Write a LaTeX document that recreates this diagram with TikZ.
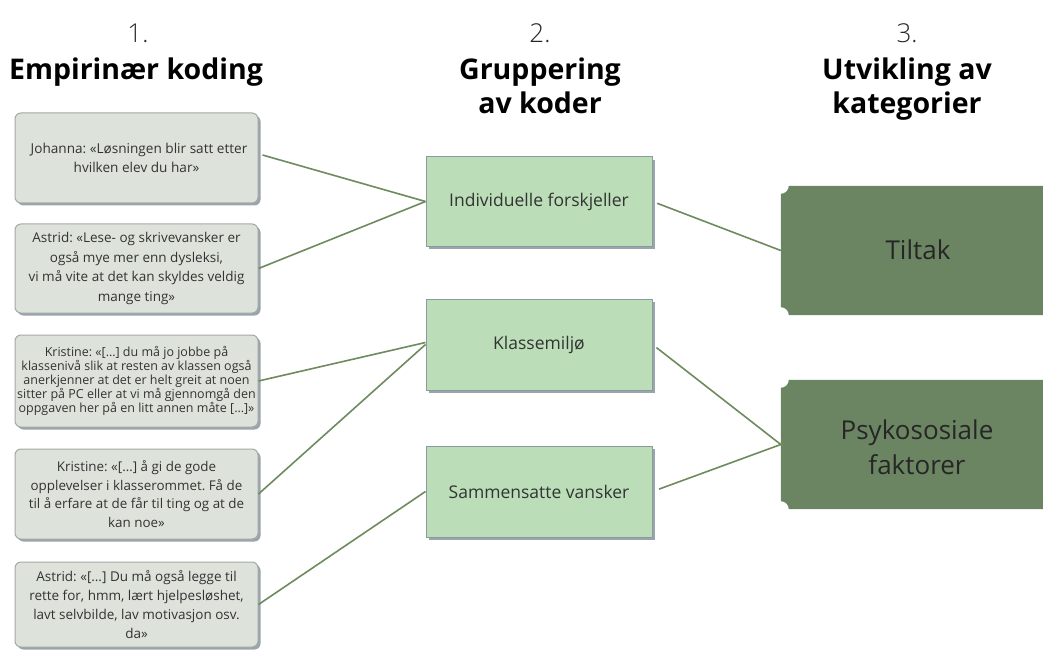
\documentclass[tikz,border=0pt]{standalone}
\usepackage{fontspec}
\setmainfont{Open Sans}
\newfontfamily\lightfont{Open Sans Light}
\frenchspacing
\usetikzlibrary{shadows}
\definecolor{quotefill}{HTML}{DDE3DB}
\definecolor{quoteborder}{HTML}{A3AAA5}
\definecolor{groupfill}{HTML}{BBDEB9}
\definecolor{groupborder}{HTML}{8D9A9C}
\definecolor{shadowc}{HTML}{9AA4AE}
\definecolor{catfill}{HTML}{6B8562}
\definecolor{linkc}{HTML}{6E8A5E}
\definecolor{textc}{HTML}{333333}
\tikzset{
  quote/.style={rectangle, rounded corners=6pt, draw=quoteborder, line width=1pt, fill=quotefill,
    minimum width=243pt, align=center, inner sep=0pt, text=textc,
    drop shadow={shadow xshift=2.5pt, shadow yshift=-2.5pt, fill=shadowc, opacity=1}},
  group/.style={rectangle, draw=groupborder, line width=1pt, fill=groupfill,
    minimum width=226pt, align=center, inner sep=0pt, text=textc,
    font=\fontsize{17.5}{22}\selectfont,
    drop shadow={shadow xshift=3pt, shadow yshift=-3pt, fill=shadowc, opacity=1}},
  cat/.style={rectangle, minimum width=262pt, inner sep=0pt, align=center, text=black!85,
    font=\fontsize{26}{35}\selectfont},
  link/.style={draw=linkc, line width=1.6pt},
  numlab/.style={font=\lightfont\fontsize{26}{30}\selectfont, text=black!85},
  headlab/.style={font=\bfseries\fontsize{28.5}{34}\selectfont, align=center, text=black}
}
\begin{document}
\begin{tikzpicture}[x=1pt,y=1pt]
\useasboundingbox (0,0) rectangle (1043,649);
\clip (0,0) rectangle (1043,649);
\fill[white] (0,0) rectangle (1043,649);

% headings
\node[numlab] (n1) at (138,616) {1.};
\node[numlab] (n2) at (540,616) {2.};
\node[numlab] (n3) at (907,616) {3.};
\node[headlab] (h1) at (136,577) {Empirinær koding};
\node[headlab, anchor=north] (h2) at (540,595) {Gruppering\\av koder};
\node[headlab, anchor=north] (h3) at (907,595) {Utvikling av\\kategorier};

% quote boxes
\node[quote, minimum height=90pt, font=\fontsize{13.6}{19.5}\selectfont] (q1) at (136.5,491)
  {\hspace*{5pt}Johanna: «Løsningen blir satt etter\\hvilken elev du har»};
\node[quote, minimum height=89pt, font=\fontsize{13.5}{19.5}\selectfont] (q2) at (136.5,380.5)
  {Astrid: «Lese- og skrivevansker er\\også mye mer enn dysleksi,\\vi må vite at det kan skyldes veldig\\mange ting»};
\node[quote, minimum height=92pt, font=\fontsize{12.5}{14}\selectfont] (q3) at (136.5,268)
  {Kristine: «[…] du må jo jobbe på\\klassenivå slik at resten av klassen også\\anerkjenner at det er helt greit at noen\\sitter på PC eller at vi må gjennomgå den\\oppgaven her på en litt annen måte […]»};
\node[quote, minimum height=90pt, font=\fontsize{13.4}{18.7}\selectfont] (q4) at (136.5,155)
  {Kristine: «[…] å gi de gode\\opplevelser i klasserommet. Få de\\til å erfare at de får til ting og at de\\kan noe»};
\node[quote, minimum height=85pt, font=\fontsize{13.5}{19}\selectfont] (q5) at (136.5,44.5)
  {Astrid: «[…] Du må også legge til\\rette for, hmm, lært hjelpesløshet,\\lavt selvbilde, lav motivasjon osv.\\da»};

% group boxes
\node[group, minimum height=89pt] (g1) at (539,447.5) {Individuelle forskjeller};
\node[group, minimum height=91pt] (g2) at (539,304.5) {Klassemiljø};
\node[group, minimum height=91pt] (g3) at (539,157.5) {Sammensatte vansker};

% category boxes (ticket shape)
\node[cat, minimum height=129pt] (c1) at (912,398.5) {};
\node[cat, minimum height=129pt] (c2) at (912,204.5) {};
\foreach \c in {c1,c2}{
  \fill[catfill] ([yshift=-8pt]\c.north west) arc[start angle=270, end angle=360, radius=8pt]
    -- ([xshift=10pt]\c.north east) -- ([xshift=10pt]\c.south east)
    -- ([xshift=8pt]\c.south west) arc[start angle=0, end angle=90, radius=8pt] -- cycle;
}
\node[cat] (t1) at (918,399) {Tiltak};
\node[cat] (t2) at (917,202) {Psykososiale\\faktorer};

% connectors
\path (q1.east) ++(4pt,3pt) coordinate (q1e);
\draw[link] (q1e) -- (g1.west);
\draw[link] (q2.east) -- (g1.west);
\draw[link] (q3.east) -- ([yshift=2pt]g2.west);
\draw[link] (q4.east) -- (g2.west);
\draw[link] (q5.east) -- (g3.west);
\draw[link, shorten <=5pt] (g1.east) -- (c1.west);
\draw[link, shorten <=5pt, shorten >=-4pt] (g2.east) -- (c2.west);
\draw[link, shorten <=7pt, shorten >=-4pt] (g3.east) -- (c2.west);
\end{tikzpicture}
\end{document}
